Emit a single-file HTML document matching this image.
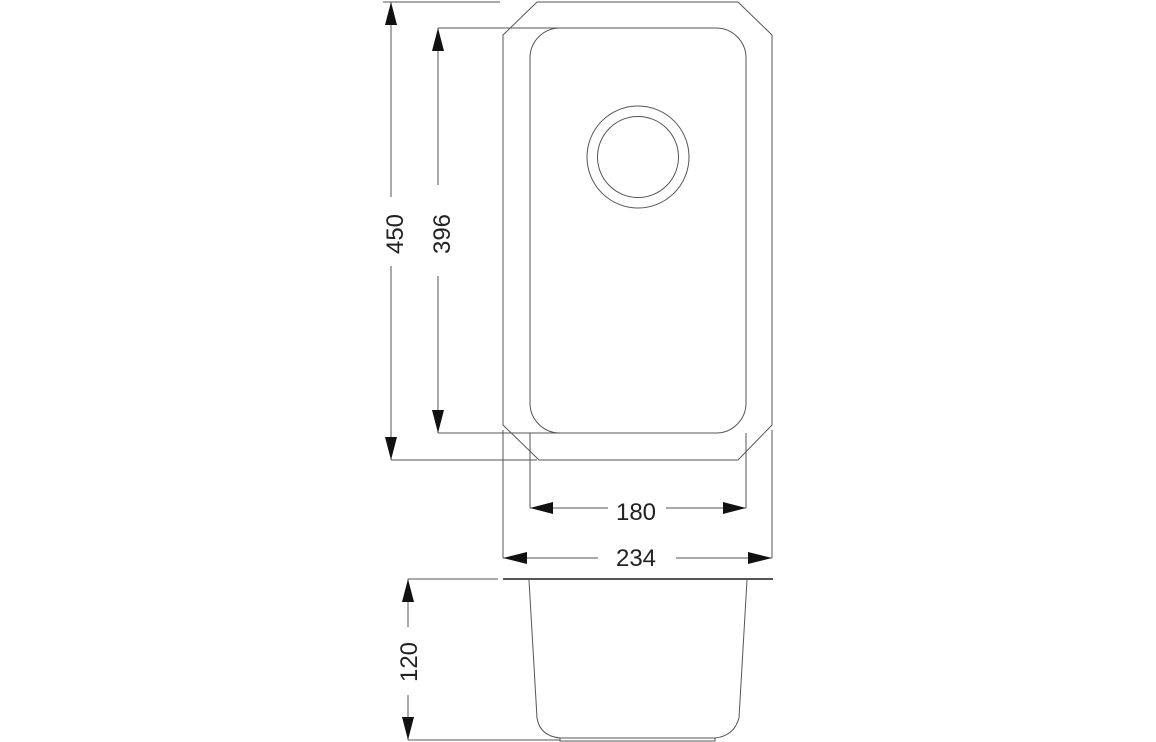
<!DOCTYPE html>
<html><head><meta charset="utf-8"><style>
html,body{margin:0;padding:0;background:#fff;}
svg{display:block;}
text{font-family:"Liberation Sans",sans-serif;font-size:24px;fill:#222;}
</style></head><body>
<svg width="1156" height="742" viewBox="0 0 1156 742" xmlns="http://www.w3.org/2000/svg">
<g fill="none" stroke="#555" stroke-width="1">
<!-- octagon -->
<polygon points="537,2 738,2 772,35 772,425 738,460 539,460 503,425 503,35"/>
<!-- inner rounded rect -->
<rect x="530" y="28" width="216" height="405" rx="30" ry="30"/>
<!-- plughole -->
<circle cx="638" cy="157" r="51"/>
<circle cx="638" cy="157" r="40.5"/>
<!-- extension lines -->
<line x1="383" y1="2" x2="500" y2="2"/>
<line x1="391" y1="460" x2="537" y2="460"/>
<line x1="438" y1="28" x2="560" y2="28"/>
<line x1="438" y1="433" x2="560" y2="433"/>
<line x1="503" y1="430" x2="503" y2="558"/>
<line x1="772" y1="430" x2="772" y2="558"/>
<line x1="530" y1="433" x2="530" y2="508"/>
<line x1="746" y1="433" x2="746" y2="508"/>
<!-- 450 -->
<line x1="391" y1="2" x2="391" y2="197"/>
<line x1="391" y1="266" x2="391" y2="460"/>
<!-- 396 -->
<line x1="438" y1="28" x2="438" y2="185"/>
<line x1="438" y1="276" x2="438" y2="433"/>
<!-- 180 -->
<line x1="530" y1="508" x2="608" y2="508"/>
<line x1="666" y1="508" x2="746" y2="508"/>
<!-- 234 -->
<line x1="503" y1="558" x2="598" y2="558"/>
<line x1="676" y1="558" x2="772" y2="558"/>
<!-- side view -->
<line x1="408" y1="579" x2="498" y2="579"/>
<line x1="503" y1="579" x2="773" y2="579" stroke-width="2"/>
<path d="M529,580 L537,718 Q540,736 560,738 L715,738 Q734,736 739,718 L747,580"/>
<path d="M560,738 L560,741 L715,741 L715,738"/>
<line x1="408" y1="740" x2="560" y2="740"/>
<!-- 120 -->
<line x1="408" y1="579" x2="408" y2="627"/>
<line x1="408" y1="695" x2="408" y2="740"/>
</g>
<g fill="#111">
<polygon points="391,2 385,25 397,25"/>
<polygon points="391,460 385,437 397,437"/>
<polygon points="438,28 432,51 444,51"/>
<polygon points="438,433 432,410 444,410"/>
<polygon points="530,508 553,502 553,514"/>
<polygon points="746,508 723,502 723,514"/>
<polygon points="503,558 527,552 527,564"/>
<polygon points="772,558 748,552 748,564"/>
<polygon points="408,579 402,602 414,602"/>
<polygon points="408,740 402,717 414,717"/>
</g>
<text transform="translate(403,234) rotate(-90)" text-anchor="middle">450</text>
<text transform="translate(450,234) rotate(-90)" text-anchor="middle">396</text>
<text transform="translate(417,662) rotate(-90)" text-anchor="middle">120</text>
<text x="636" y="520" text-anchor="middle">180</text>
<text x="636" y="566" text-anchor="middle">234</text>
</svg>
</body></html>
